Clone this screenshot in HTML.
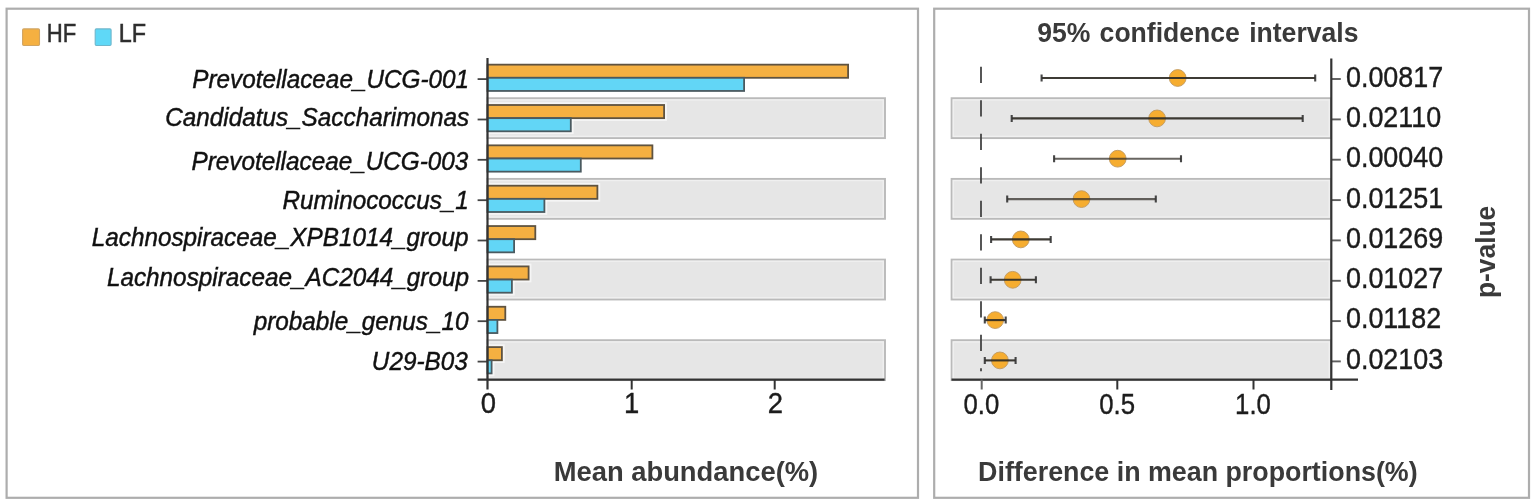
<!DOCTYPE html>
<html><head><meta charset="utf-8"><title>Mean abundance / 95% confidence intervals</title>
<style>
html,body{margin:0;padding:0;background:#fff;}
svg{display:block;}
text{font-family:"Liberation Sans", Arial, sans-serif;}
.lab{font-style:italic;font-size:25.3px;fill:#111;stroke:#111;stroke-width:0.45px;}
.tick{font-size:29.5px;fill:#1c1c1c;stroke:#1c1c1c;stroke-width:0.4px;}
.ttl{font-weight:bold;font-size:28.4px;fill:#3a3a3a;}
.leg{font-size:25.3px;fill:#2e2e2e;stroke:#2e2e2e;stroke-width:0.5px;}
</style></head><body>
<svg width="1535" height="504" viewBox="0 0 1535 504">
<rect x="0" y="0" width="1535" height="504" fill="#ffffff"/>

<rect x="6.6" y="8.7" width="911.4" height="489.1" fill="#fff" stroke="#adadad" stroke-width="2.2"/>
<rect x="934.2" y="8.7" width="594.8" height="489.1" fill="#fff" stroke="#adadad" stroke-width="2.2"/>
<rect x="22.6" y="28.9" width="16.9" height="16.6" rx="1.2" fill="#f5b041" stroke="#d0a462" stroke-width="1.1"/>
<rect x="95.2" y="28.9" width="15.9" height="16.6" rx="1.2" fill="#5fd8f7" stroke="#6fb6cb" stroke-width="1.1"/>
<rect x="487.5" y="98.2" width="397.5" height="39.9" fill="#e6e6e6" stroke="#bababa" stroke-width="1.9"/>
<rect x="489.2" y="99.9" width="394.1" height="36.5" fill="none" stroke="#f0f0f0" stroke-width="1.3"/>
<rect x="951.6" y="98.2" width="379.4" height="39.9" fill="#e6e6e6" stroke="#bababa" stroke-width="1.9"/>
<rect x="953.3" y="99.9" width="376.0" height="36.5" fill="none" stroke="#f0f0f0" stroke-width="1.3"/>
<rect x="487.5" y="178.9" width="397.5" height="39.9" fill="#e6e6e6" stroke="#bababa" stroke-width="1.9"/>
<rect x="489.2" y="180.6" width="394.1" height="36.5" fill="none" stroke="#f0f0f0" stroke-width="1.3"/>
<rect x="951.6" y="178.9" width="379.4" height="39.9" fill="#e6e6e6" stroke="#bababa" stroke-width="1.9"/>
<rect x="953.3" y="180.6" width="376.0" height="36.5" fill="none" stroke="#f0f0f0" stroke-width="1.3"/>
<rect x="487.5" y="259.6" width="397.5" height="39.9" fill="#e6e6e6" stroke="#bababa" stroke-width="1.9"/>
<rect x="489.2" y="261.2" width="394.1" height="36.5" fill="none" stroke="#f0f0f0" stroke-width="1.3"/>
<rect x="951.6" y="259.6" width="379.4" height="39.9" fill="#e6e6e6" stroke="#bababa" stroke-width="1.9"/>
<rect x="953.3" y="261.2" width="376.0" height="36.5" fill="none" stroke="#f0f0f0" stroke-width="1.3"/>
<rect x="487.5" y="340.2" width="397.5" height="39.9" fill="#e6e6e6" stroke="#bababa" stroke-width="1.9"/>
<rect x="489.2" y="341.9" width="394.1" height="36.5" fill="none" stroke="#f0f0f0" stroke-width="1.3"/>
<rect x="951.6" y="340.2" width="379.4" height="39.9" fill="#e6e6e6" stroke="#bababa" stroke-width="1.9"/>
<rect x="953.3" y="341.9" width="376.0" height="36.5" fill="none" stroke="#f0f0f0" stroke-width="1.3"/>
<rect x="487.5" y="64.65" width="360.6" height="13.15" fill="none" stroke="#fff" stroke-opacity="0.6" stroke-width="5.6"/>
<rect x="487.5" y="77.80" width="256.6" height="13.15" fill="none" stroke="#fff" stroke-opacity="0.6" stroke-width="5.6"/>
<rect x="487.5" y="105.00" width="176.6" height="13.15" fill="none" stroke="#fff" stroke-opacity="0.6" stroke-width="5.6"/>
<rect x="487.5" y="118.15" width="83.3" height="13.15" fill="none" stroke="#fff" stroke-opacity="0.6" stroke-width="5.6"/>
<rect x="487.5" y="145.35" width="164.9" height="13.15" fill="none" stroke="#fff" stroke-opacity="0.6" stroke-width="5.6"/>
<rect x="487.5" y="158.50" width="93.3" height="13.15" fill="none" stroke="#fff" stroke-opacity="0.6" stroke-width="5.6"/>
<rect x="487.5" y="185.70" width="109.9" height="13.15" fill="none" stroke="#fff" stroke-opacity="0.6" stroke-width="5.6"/>
<rect x="487.5" y="198.85" width="56.9" height="13.15" fill="none" stroke="#fff" stroke-opacity="0.6" stroke-width="5.6"/>
<rect x="487.5" y="226.05" width="47.8" height="13.15" fill="none" stroke="#fff" stroke-opacity="0.6" stroke-width="5.6"/>
<rect x="487.5" y="239.20" width="26.6" height="13.15" fill="none" stroke="#fff" stroke-opacity="0.6" stroke-width="5.6"/>
<rect x="487.5" y="266.40" width="41.1" height="13.15" fill="none" stroke="#fff" stroke-opacity="0.6" stroke-width="5.6"/>
<rect x="487.5" y="279.55" width="24.4" height="13.15" fill="none" stroke="#fff" stroke-opacity="0.6" stroke-width="5.6"/>
<rect x="487.5" y="306.75" width="17.8" height="13.15" fill="none" stroke="#fff" stroke-opacity="0.6" stroke-width="5.6"/>
<rect x="487.5" y="319.90" width="9.9" height="13.15" fill="none" stroke="#fff" stroke-opacity="0.6" stroke-width="5.6"/>
<rect x="487.5" y="347.10" width="14.4" height="13.15" fill="none" stroke="#fff" stroke-opacity="0.6" stroke-width="5.6"/>
<rect x="487.5" y="360.25" width="4.1" height="13.15" fill="none" stroke="#fff" stroke-opacity="0.6" stroke-width="5.6"/>
<rect x="487.5" y="64.65" width="360.6" height="13.15" fill="#f5b041" stroke="#5f5340" stroke-width="1.8"/>
<rect x="487.5" y="77.80" width="256.6" height="13.15" fill="#62d6f6" stroke="#4a5a60" stroke-width="1.8"/>
<line x1="477.6" x2="487.5" y1="79.1" y2="79.1" stroke="#444" stroke-width="1.8"/>
<rect x="487.5" y="105.00" width="176.6" height="13.15" fill="#f5b041" stroke="#5f5340" stroke-width="1.8"/>
<rect x="487.5" y="118.15" width="83.3" height="13.15" fill="#62d6f6" stroke="#4a5a60" stroke-width="1.8"/>
<line x1="477.6" x2="487.5" y1="119.5" y2="119.5" stroke="#444" stroke-width="1.8"/>
<rect x="487.5" y="145.35" width="164.9" height="13.15" fill="#f5b041" stroke="#5f5340" stroke-width="1.8"/>
<rect x="487.5" y="158.50" width="93.3" height="13.15" fill="#62d6f6" stroke="#4a5a60" stroke-width="1.8"/>
<line x1="477.6" x2="487.5" y1="159.8" y2="159.8" stroke="#444" stroke-width="1.8"/>
<rect x="487.5" y="185.70" width="109.9" height="13.15" fill="#f5b041" stroke="#5f5340" stroke-width="1.8"/>
<rect x="487.5" y="198.85" width="56.9" height="13.15" fill="#62d6f6" stroke="#4a5a60" stroke-width="1.8"/>
<line x1="477.6" x2="487.5" y1="200.2" y2="200.2" stroke="#444" stroke-width="1.8"/>
<rect x="487.5" y="226.05" width="47.8" height="13.15" fill="#f5b041" stroke="#5f5340" stroke-width="1.8"/>
<rect x="487.5" y="239.20" width="26.6" height="13.15" fill="#62d6f6" stroke="#4a5a60" stroke-width="1.8"/>
<line x1="477.6" x2="487.5" y1="240.5" y2="240.5" stroke="#444" stroke-width="1.8"/>
<rect x="487.5" y="266.40" width="41.1" height="13.15" fill="#f5b041" stroke="#5f5340" stroke-width="1.8"/>
<rect x="487.5" y="279.55" width="24.4" height="13.15" fill="#62d6f6" stroke="#4a5a60" stroke-width="1.8"/>
<line x1="477.6" x2="487.5" y1="280.9" y2="280.9" stroke="#444" stroke-width="1.8"/>
<rect x="487.5" y="306.75" width="17.8" height="13.15" fill="#f5b041" stroke="#5f5340" stroke-width="1.8"/>
<rect x="487.5" y="319.90" width="9.9" height="13.15" fill="#62d6f6" stroke="#4a5a60" stroke-width="1.8"/>
<line x1="477.6" x2="487.5" y1="321.2" y2="321.2" stroke="#444" stroke-width="1.8"/>
<rect x="487.5" y="347.10" width="14.4" height="13.15" fill="#f5b041" stroke="#5f5340" stroke-width="1.8"/>
<rect x="487.5" y="360.25" width="4.1" height="13.15" fill="#62d6f6" stroke="#4a5a60" stroke-width="1.8"/>
<line x1="477.6" x2="487.5" y1="361.6" y2="361.6" stroke="#444" stroke-width="1.8"/>
<line x1="487.5" x2="487.5" y1="58" y2="389.5" stroke="#333" stroke-width="2.2"/>
<line x1="477.6" x2="884.6" y1="379.6" y2="379.6" stroke="#333" stroke-width="2.4"/>
<line x1="631.7" x2="631.7" y1="379.6" y2="389.5" stroke="#333" stroke-width="2"/>
<line x1="774.7" x2="774.7" y1="379.6" y2="389.5" stroke="#333" stroke-width="2"/>
<line x1="981" x2="981" y1="66.7" y2="83.0" stroke="#444" stroke-width="1.8"/>
<line x1="981" x2="981" y1="100.2" y2="116.5" stroke="#444" stroke-width="1.8"/>
<line x1="981" x2="981" y1="133.7" y2="150.0" stroke="#444" stroke-width="1.8"/>
<line x1="981" x2="981" y1="167.2" y2="183.5" stroke="#444" stroke-width="1.8"/>
<line x1="981" x2="981" y1="200.7" y2="217.0" stroke="#444" stroke-width="1.8"/>
<line x1="981" x2="981" y1="234.2" y2="250.5" stroke="#444" stroke-width="1.8"/>
<line x1="981" x2="981" y1="267.7" y2="284.0" stroke="#444" stroke-width="1.8"/>
<line x1="981" x2="981" y1="301.2" y2="317.5" stroke="#444" stroke-width="1.8"/>
<line x1="981" x2="981" y1="334.7" y2="351.0" stroke="#444" stroke-width="1.8"/>
<line x1="981" x2="981" y1="368.2" y2="371.3" stroke="#444" stroke-width="1.8"/>
<circle cx="1177.7" cy="78.0" r="8.4" fill="#f6ad30" stroke="#bf9a62" stroke-width="0.9"/>
<path d="M1041.6 78.0H1315.2" stroke="#2e2a24" stroke-opacity="0.92" stroke-width="2.1" fill="none"/>
<path d="M1041.6 74.5V81.5M1315.2 74.5V81.5" stroke="#333" stroke-opacity="0.9" stroke-width="2.1" fill="none"/>
<line x1="1331" x2="1340.8" y1="79.0" y2="79.0" stroke="#5e5e5e" stroke-width="1.9"/>
<circle cx="1157.1" cy="118.4" r="8.4" fill="#f6ad30" stroke="#bf9a62" stroke-width="0.9"/>
<path d="M1011.7 118.4H1302.7" stroke="#2e2a24" stroke-opacity="0.92" stroke-width="2.1" fill="none"/>
<path d="M1011.7 114.9V121.9M1302.7 114.9V121.9" stroke="#333" stroke-opacity="0.9" stroke-width="2.1" fill="none"/>
<line x1="1331" x2="1340.8" y1="119.4" y2="119.4" stroke="#5e5e5e" stroke-width="1.9"/>
<circle cx="1117.7" cy="158.7" r="8.4" fill="#f6ad30" stroke="#bf9a62" stroke-width="0.9"/>
<path d="M1054.1 158.7H1181.0" stroke="#2e2a24" stroke-opacity="0.72" stroke-width="2.1" fill="none"/>
<path d="M1054.1 155.2V162.2M1181.0 155.2V162.2" stroke="#333" stroke-opacity="0.9" stroke-width="2.1" fill="none"/>
<line x1="1331" x2="1340.8" y1="159.7" y2="159.7" stroke="#5e5e5e" stroke-width="1.9"/>
<circle cx="1081.5" cy="199.1" r="8.4" fill="#f6ad30" stroke="#bf9a62" stroke-width="0.9"/>
<path d="M1007.2 199.1H1155.8" stroke="#2e2a24" stroke-opacity="0.72" stroke-width="2.1" fill="none"/>
<path d="M1007.2 195.6V202.6M1155.8 195.6V202.6" stroke="#333" stroke-opacity="0.9" stroke-width="2.1" fill="none"/>
<line x1="1331" x2="1340.8" y1="200.1" y2="200.1" stroke="#5e5e5e" stroke-width="1.9"/>
<circle cx="1020.8" cy="239.4" r="8.4" fill="#f6ad30" stroke="#bf9a62" stroke-width="0.9"/>
<path d="M991.1 239.4H1050.7" stroke="#2e2a24" stroke-opacity="0.92" stroke-width="2.1" fill="none"/>
<path d="M991.1 235.9V242.9M1050.7 235.9V242.9" stroke="#333" stroke-opacity="0.9" stroke-width="2.1" fill="none"/>
<line x1="1331" x2="1340.8" y1="240.4" y2="240.4" stroke="#5e5e5e" stroke-width="1.9"/>
<circle cx="1012.7" cy="279.8" r="8.4" fill="#f6ad30" stroke="#bf9a62" stroke-width="0.9"/>
<path d="M990.6 279.8H1035.9" stroke="#2e2a24" stroke-opacity="0.92" stroke-width="2.1" fill="none"/>
<path d="M990.6 276.2V283.2M1035.9 276.2V283.2" stroke="#333" stroke-opacity="0.9" stroke-width="2.1" fill="none"/>
<line x1="1331" x2="1340.8" y1="280.8" y2="280.8" stroke="#5e5e5e" stroke-width="1.9"/>
<circle cx="995.2" cy="320.1" r="8.4" fill="#f6ad30" stroke="#bf9a62" stroke-width="0.9"/>
<path d="M984.8 320.1H1005.7" stroke="#2e2a24" stroke-opacity="0.92" stroke-width="2.1" fill="none"/>
<path d="M984.8 316.6V323.6M1005.7 316.6V323.6" stroke="#333" stroke-opacity="0.9" stroke-width="2.1" fill="none"/>
<line x1="1331" x2="1340.8" y1="321.1" y2="321.1" stroke="#5e5e5e" stroke-width="1.9"/>
<circle cx="999.9" cy="360.4" r="8.4" fill="#f6ad30" stroke="#bf9a62" stroke-width="0.9"/>
<path d="M984.8 360.4H1015.6" stroke="#2e2a24" stroke-opacity="0.92" stroke-width="2.1" fill="none"/>
<path d="M984.8 356.9V363.9M1015.6 356.9V363.9" stroke="#333" stroke-opacity="0.9" stroke-width="2.1" fill="none"/>
<line x1="1331" x2="1340.8" y1="361.4" y2="361.4" stroke="#5e5e5e" stroke-width="1.9"/>
<line x1="1331.3" x2="1331.3" y1="58.5" y2="390" stroke="#333" stroke-width="2.2"/>
<line x1="951.5" x2="1358" y1="379.6" y2="379.6" stroke="#333" stroke-width="2.4"/>
<line x1="981.7" x2="981.7" y1="379.6" y2="389.5" stroke="#666" stroke-width="2"/>
<line x1="1117.3" x2="1117.3" y1="379.6" y2="389.5" stroke="#333" stroke-width="2"/>
<line x1="1253.5" x2="1253.5" y1="379.6" y2="389.5" stroke="#333" stroke-width="2"/>
<text class="leg" transform="translate(46.75 41.90) scale(0.8742 1)">HF</text>
<text class="leg" transform="translate(118.75 41.90) scale(0.9259 1)">LF</text>
<text class="lab" transform="translate(192.18 88.10) scale(0.9606 1)">Prevotellaceae_UCG-001</text>
<text class="lab" transform="translate(165.21 125.60) scale(0.9606 1)">Candidatus_Saccharimonas</text>
<text class="lab" transform="translate(191.46 170.25) scale(0.9606 1)">Prevotellaceae_UCG-003</text>
<text class="lab" transform="translate(282.47 209.40) scale(0.9606 1)">Ruminococcus_1</text>
<text class="lab" transform="translate(91.76 246.00) scale(0.9606 1)">Lachnospiraceae_XPB1014_group</text>
<text class="lab" transform="translate(106.93 285.90) scale(0.9606 1)">Lachnospiraceae_AC2044_group</text>
<text class="lab" transform="translate(253.69 329.80) scale(0.9606 1)">probable_genus_10</text>
<text class="lab" transform="translate(371.84 369.80) scale(0.9606 1)">U29-B03</text>
<text class="tick" transform="translate(480.76 413.30) scale(0.9300 1)">0</text>
<text class="tick" transform="translate(624.00 413.30) scale(0.9300 1)">1</text>
<text class="tick" transform="translate(767.66 413.30) scale(0.9300 1)">2</text>
<text class="ttl" transform="translate(553.67 480.60) scale(0.9642 1)">Mean abundance(%)</text>
<text class="ttl" style="word-spacing:2.0px" transform="translate(1037.16 42.25) scale(0.9359 1)">95% confidence intervals</text>
<text class="tick" transform="translate(1345.99 87.00) scale(0.9120 1)">0.00817</text>
<text class="tick" transform="translate(1345.99 127.24) scale(0.9120 1)">0.02110</text>
<text class="tick" transform="translate(1345.99 167.48) scale(0.9120 1)">0.00040</text>
<text class="tick" transform="translate(1345.99 207.72) scale(0.9120 1)">0.01251</text>
<text class="tick" transform="translate(1345.99 247.96) scale(0.9120 1)">0.01269</text>
<text class="tick" transform="translate(1345.99 288.20) scale(0.9120 1)">0.01027</text>
<text class="tick" transform="translate(1345.99 328.44) scale(0.9120 1)">0.01182</text>
<text class="tick" transform="translate(1345.99 368.68) scale(0.9120 1)">0.02103</text>
<text class="tick" transform="translate(963.40 413.50) scale(0.8731 1)">0.0</text>
<text class="tick" transform="translate(1099.30 413.50) scale(0.8731 1)">0.5</text>
<text class="tick" transform="translate(1235.07 413.50) scale(0.8731 1)">1.0</text>
<text class="ttl" transform="translate(978.11 480.60) scale(0.9448 1)">Difference in mean proportions(%)</text>
<text class="ttl" transform="translate(1494.5 298.11) rotate(-90) scale(0.9297 1)">p-value</text>
</svg></body></html>
